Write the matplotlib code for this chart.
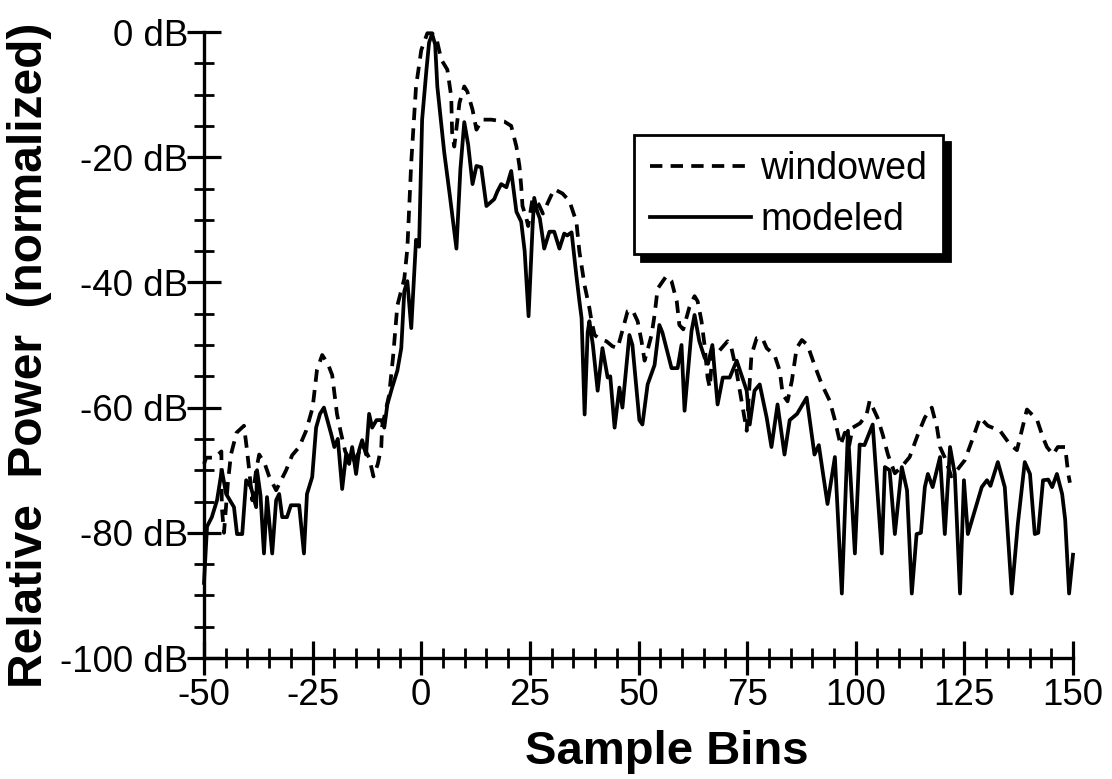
import matplotlib
matplotlib.use("Agg")
import matplotlib.pyplot as plt
from matplotlib.ticker import MultipleLocator, FixedLocator

# ---- data ----
modeled_x = [-50, -49.3, -48.2, -47, -45.9, -44.9, -43.1, -42.4, -41.2, -40.3, -39.2, -38, -37.8, -37,
             -36.2, -35.5, -34.3, -33.4, -32.7, -32, -30.9, -30, -28.1, -27, -26.3, -25.1, -24.2, -23.3,
             -22.4, -20.7, -20, -19.2, -18.2, -17.3, -16.6, -15.9, -15, -14.3, -13.6, -12.7, -12, -11.3,
             -10.3, -9.2, -8.5, -7.8, -6.7, -5.5, -4.6, -3.9, -3.2, -2.3, -1.6, -1.2, -0.5, 0.2, 1.2,
             1.8, 2.5, 3.2, 3.7, 5.3, 6.5, 8.1, 9.0, 9.9, 10.8, 11.8, 12.7, 13.8, 15, 16.8, 17.5, 18.4,
             19.6, 20.7, 21.9, 23, 23.8, 24.7, 25.6, 26, 26.7, 27.3, 28.3, 29.5, 30.6, 31.8, 32.9, 33.6,
             34.6, 35.7, 36.4, 36.9, 37.6, 38.3, 38.7, 39.5, 40.6, 41.7, 42.9, 43.5, 44.5, 45.6, 46.3,
             47.9, 48.6, 50.2, 50.9, 52.1, 53.7, 54.8, 55.5, 57.6, 59, 59.9, 60.6, 62.2, 62.9, 64, 65.2,
             66, 67, 68.2, 69.4, 71, 72.6, 74.9, 75.6, 76.7, 77.9, 79.5, 80.6, 82, 83.6, 84.8, 86.5,
             88.7, 90.5, 91.5, 93.5, 95.2, 96.8, 98.2, 99.8, 100.9, 102, 103.9, 106, 106.7, 107.8, 109,
             110.6, 111.8, 112.9, 114, 115, 115.9, 116.6, 117.7, 119.4, 120.5, 121.7, 122.8, 124, 124.9,
             125.8, 129, 130.2, 131, 132.7, 134.3, 135.9, 137.3, 138.9, 140.1, 141.2, 142, 143.1, 144.3,
             145.2, 146.3, 147.5, 148.2, 149.1, 150]
modeled_db = [-88, -79, -77.5, -74.8, -70, -73.8, -75.9, -80.2, -80.2, -71.6, -72.7, -75.9, -70, -74,
              -83.3, -74.3, -83.3, -74.8, -73.8, -77.5, -77.5, -75.6, -75.6, -83.3, -73.8, -71.1, -63.2, -61,
              -60, -64.3, -66.3, -65, -73, -67.5, -69, -66.3, -70.6, -66.8, -65.2, -67.5, -61, -63.2,
              -62, -62, -63.2, -59.5, -56.8, -54.1, -50.5, -41.4, -39.8, -47.3, -38.5, -33.2, -34.3, -14, -6,
              -1.7, -0.3, -2, -8.7, -19.3, -25.7, -34.6, -22, -14.4, -18, -24.3, -21.4, -21.6, -27.8, -26.7, -25.5, -24.3,
              -24.8, -22.2, -28.7, -30.3, -35, -45.4, -31.4, -26.5, -28.7, -29.8, -34.6, -31.9, -31.9, -34.6, -32.2, -32.5,
              -32, -38.9, -43, -45.7, -61.1, -48, -46.2, -50, -57.3, -50.5, -55.2, -55, -63.2, -56.8, -60,
              -48.4, -50, -62, -62.7, -56.3, -53.2, -46.8, -48, -53.7, -53.7, -50, -60.5, -47.8, -45.2, -49.4, -52,
              -53, -50, -59.5, -55.2, -55.2, -52.5, -57.3, -62.7, -57.3, -56.3, -61.6, -66.3, -59.5, -67.5, -62, -61,
              -58.4, -67.5, -66, -75.4, -67.9, -89.7, -63.7, -83.3, -65.9, -66, -62.7, -83.3, -69.5, -70, -80.2,
              -69.5, -73.2, -89.7, -80.2, -80, -72.7, -70.6, -72.7, -67.9, -80.2, -66.3, -70.6, -89.7, -71.6,
              -80.2, -72.7, -71.6, -72.5, -68.7, -72.7, -89.7, -78.6, -68.7, -70.6, -80.2, -80, -71.6, -71.5,
              -72.7, -70.6, -73.8, -77.9, -89.7, -83.5]

windowed_x = [-50, -49.5, -47.5, -46, -45.9, -45.4, -44.5, -43.8, -42.5, -40.8, -40.1, -39.6, -38.9, -38,
              -37.3, -36, -35, -33.4, -31.1, -29.7, -28.1, -26.5, -25, -24, -22.8, -21.5, -20.5, -19.4,
              -18.5, -17.5, -16, -15, -13.5, -12, -11, -10, -9.2, -9, -7.4, -6.5, -5.5, -4.5, -3.9, -3.2,
              -2.3, -1.2, 0, 1.4, 2.5, 3.5, 4.6, 6, 6.9, 7.1, 7.6, 8.8, 9.9, 10.6, 11.8, 12.7, 14, 16.1,
              19.1, 20.7, 21.9, 22.6, 23, 23.3, 24.2, 24.6, 25.6, 27, 28, 29.5, 30.6, 32.5, 34.1, 35.7,
              36.4, 37.6, 38.7, 39.2, 39.9, 41, 42.6, 44, 45.2, 47.5, 48.6, 49.8, 50.7, 51.4, 52.2, 53,
              53.7, 54.4, 56.4, 57.6, 58.8, 59.4, 60.3, 61.7, 62.9, 63.6, 64.5, 65.2, 65.9, 66.4, 67.1,
              68.5, 70.5, 71.4, 72.5, 74, 74.9, 75.4, 76, 77.2, 78.5, 79.5, 81.3, 82.5, 83.2, 84.3, 85.3,
              86.4, 87.6, 88.9, 90.5, 92.2, 94, 95.2, 96.5, 97.5, 98.5, 99.3, 101, 102.5, 103.2, 105,
              106.2, 107.4, 109, 110.5, 112.4, 114.3, 115.9, 117.5, 118.7, 119.4, 120.5, 122, 123.3, 125.1,
              127, 128.6, 130.4, 133.2, 135.5, 137.1, 138.2, 139.4, 141.7, 143.1, 144, 145.4, 146.5, 148.2,
              148.9, 149.3]
windowed_db = [-69, -68, -68, -67, -75.9, -80, -72, -67.5, -64, -62.9, -66.8, -70, -74.8, -70,
               -67.5, -69, -71, -73.2, -70, -67.6, -66.3, -63.7, -60, -54, -51.6, -53, -54.8, -61,
               -64, -67, -69, -68, -66, -68, -71, -69, -66.3, -63, -58, -52, -43.7, -41, -39.4, -34.6,
               -20.8, -8.7, -2.9, -0.2, -0.2, -1, -4.4, -6, -10.3, -16, -18.3, -11.3, -8.7, -9.5, -12.4, -15.6, -14, -14,
               -14.3, -15, -18.3, -21.4, -24.6, -27.8, -29.8, -31, -26.7, -27.5, -29, -26.7, -25.1, -25.8, -27, -30.3,
               -35.1, -40.5, -44.1, -46.2, -48.4, -49, -49.4, -50.2, -50.5, -44.6, -44.4, -46.2, -49.4, -52.5, -50.5, -48.4,
               -45.2, -41, -39, -39.8, -43, -46.8, -47.5, -44, -42.2, -43, -46.2, -50, -55.2, -56.8, -50.5,
               -51, -49.4, -50.5, -54, -60, -63.7, -58, -51.6, -48.9, -48.9, -50.5, -51.6, -54.1, -57.9, -59, -55.7,
               -50.5, -49.2, -50, -53.2, -56.3, -58.9, -62, -66, -64, -66, -63.2, -62.5, -61.1, -58.9, -61.6,
               -64.3, -67.5, -70.5, -69.5, -67.9, -64.3, -61.6, -60, -63.2, -66.3, -68, -71, -70, -68.4,
               -64.8, -61.6, -62.9, -63.7, -65.9, -66.8, -63.7, -60.3, -61.9, -64.8, -66.3, -67.5, -66.3, -66.3,
               -70.6, -72]

x_ticks = [-50, -25, 0, 25, 50, 75, 100, 125, 150]
x_ticklabels = ["-50", "-25", "0", "25", "50", "75", "100", "125", "150"]
y_ticks = [-100, -80, -60, -40, -20, 0]
y_ticklabels = ["-100 dB", "-80 dB", "-60 dB", "-40 dB", "-20 dB", "0 dB"]
series_labels = ["windowed", "modeled"]

# ---- figure ----
plt.rcParams['font.family'] = ['Liberation Sans', 'DejaVu Sans']
W, H = 1112, 779
fig = plt.figure(figsize=(W / 100, H / 100), dpi=100)
ax = fig.add_axes([204 / W, 1 - 658 / H, (1073 - 204) / W, (658 - 32) / H])

lw = 2.7
ax.plot(windowed_x, windowed_db, color='black', lw=lw, linestyle=(0, (3.3, 2.2)),
        label=series_labels[0], clip_on=False, zorder=3)
ax.plot(modeled_x, modeled_db, color='black', lw=lw, linestyle='-',
        label=series_labels[1], clip_on=False, zorder=4)

ax.set_xlim(-50, 150)
ax.set_ylim(-100, 0)

for s in ['top', 'right']:
    ax.spines[s].set_visible(False)
for s in ['left', 'bottom']:
    ax.spines[s].set_linewidth(2.4)

ax.xaxis.set_major_locator(FixedLocator(x_ticks))
ax.set_xticklabels(x_ticklabels)
ax.yaxis.set_major_locator(FixedLocator(y_ticks))
ax.set_yticklabels(y_ticklabels)
ax.xaxis.set_minor_locator(MultipleLocator(5))
ax.yaxis.set_minor_locator(MultipleLocator(5))

ax.tick_params(axis='both', which='major', direction='inout', length=25, width=2.3,
               labelsize=26.5, color='black')
ax.tick_params(axis='both', which='minor', direction='inout', length=14, width=2.0, color='black')
ax.tick_params(axis='x', which='major', pad=2)
ax.tick_params(axis='y', which='major', pad=-1)

fig.text(667 / W, 1 - 752 / H, "Sample Bins", fontsize=34, fontweight='bold',
         ha='center', va='center')
fig.text(30 / W, 1 - 355 / H, "Relative  Power  (normalized)", fontsize=34.5, fontweight='bold',
         ha='center', va='center', rotation=90)

leg = ax.legend(loc='upper left', bbox_to_anchor=(634 / W, 1 - 135 / H),
                bbox_transform=fig.transFigure, borderaxespad=0, fontsize=27,
                handlelength=2.7, handletextpad=0.25, borderpad=0.42, labelspacing=0.42,
                fancybox=False, frameon=True,
                shadow={'ox': 5, 'oy': -5, 'color': 'black', 'alpha': 1})
frame = leg.get_frame()
frame.set_edgecolor('black')
frame.set_linewidth(2)
frame.set_alpha(1)

fig.savefig("out.png", dpi=100)
